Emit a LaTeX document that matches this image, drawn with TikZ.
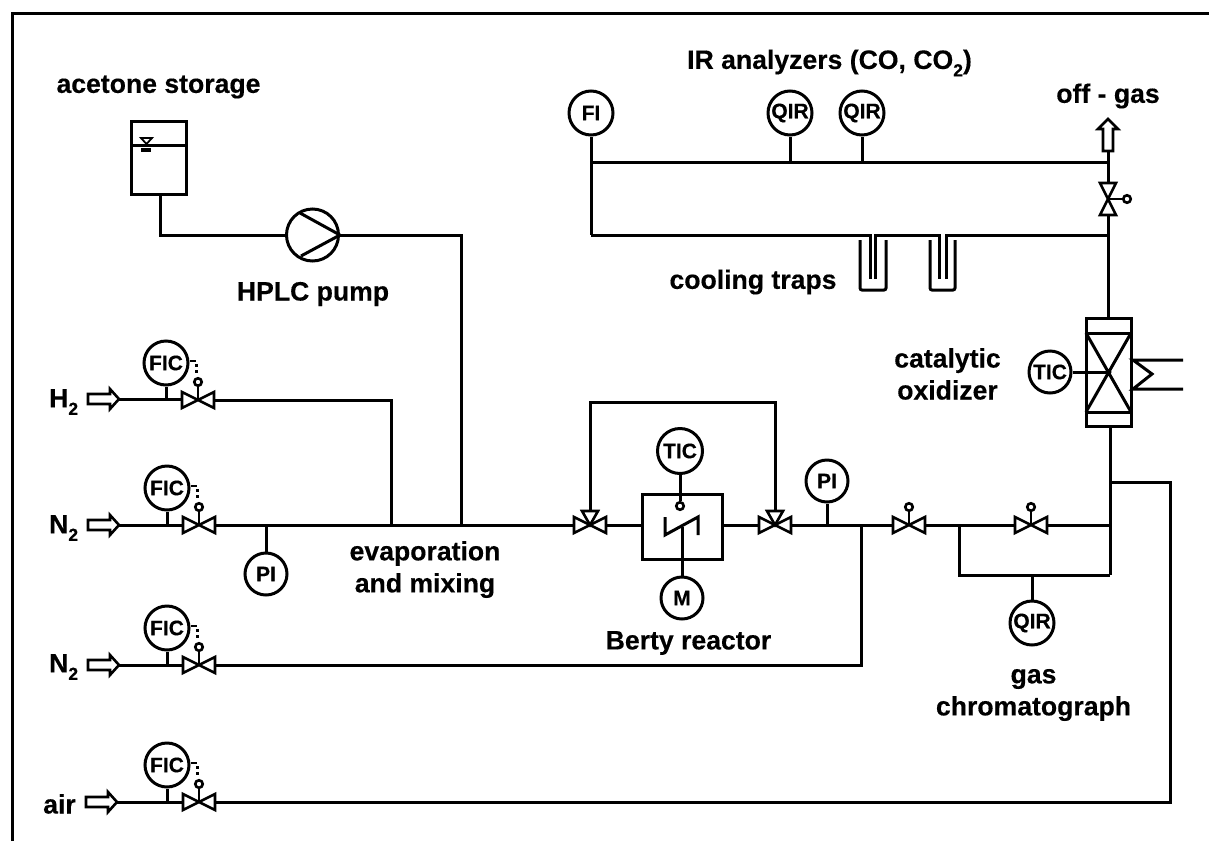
\documentclass[tikz,border=0pt]{standalone}
\usepackage{fontspec}
\setmainfont{Liberation Sans}[BoldFont={Liberation Sans Bold},BoldFeatures={FakeBold=0.35}]
\usetikzlibrary{calc}
\newcommand{\subtwo}{\raisebox{-0.28em}{\fontsize{17.5}{17.5}\selectfont 2}}
\tikzset{
  pipe/.style={line width=3pt,line join=miter},
  thinpart/.style={line width=2.6pt,line join=miter},
  inst/.style={circle,draw,line width=3pt,fill=white,inner sep=0pt,minimum size=44pt,font=\bfseries\fontsize{21}{21}\selectfont},
  lab/.style={inner sep=0pt,align=center,font=\bfseries\fontsize{26.6}{32}\selectfont},
  handle/.style={circle,draw,line width=2.6pt,fill=white,inner sep=0pt,minimum size=7.5pt},
  openarrow/.style={thinpart,fill=white}
}
% horizontal bow-tie valve
\newcommand{\hvalve}[3]{%
  \coordinate (#1) at (#2,#3);
  \coordinate (#1-l) at (#2-16,#3);
  \coordinate (#1-r) at (#2+16,#3);
  \draw[thinpart,fill=white] (#2-16,#3-8) -- (#2+16,#3+8) -- (#2+16,#3-8) -- (#2-16,#3+8) -- cycle;
}
% control valve: handle above
\newcommand{\cvalve}[3]{%
  \hvalve{#1}{#2}{#3}
  \node[handle] (#1-h) at (#2,#3-18) {};
  \draw[thinpart] (#1-h) -- (#1);
}
% FIC group
\newcommand{\ficgroup}[3]{%
  \coordinate (#1-in) at (#2-48,#3);
  \coordinate (#1-t) at (#2-32,#3);
  \node[inst] (#1-f) at (#2-32,#3-37) {FIC};
  \draw[pipe] (#1-f) -- (#1-t);
  \cvalve{#1}{#2}{#3}
  \coordinate (#1-a) at (#2-8,#3-39);
  \coordinate (#1-b) at (#2-2,#3-39);
  \draw[thinpart] (#1-a) -- (#1-b);
  \draw[line width=3pt,dash pattern=on 3pt off 3pt] (#2-2,#3-36) -- (#2-2,#3-25);
}
% open inlet arrow
\newcommand{\inarrow}[3]{%
  \coordinate (#1) at (#2+31,#3);
  \draw[openarrow] (#2,#3-5) -- (#2+22,#3-5) -- (#2+22,#3-10) -- (#2+31,#3) -- (#2+22,#3+10) -- (#2+22,#3+5) -- (#2,#3+5) -- cycle;
}
\begin{document}
\begin{tikzpicture}[x=1pt,y=-1pt]
\useasboundingbox (0,0) rectangle (1209,841);
% frame
\coordinate (fa) at (12,841);
\coordinate (fb) at (12,13);
\coordinate (fc) at (1209,13);
\draw[pipe] (fa) -- (fb) -- (fc);

% acetone storage
\node[draw,line width=3pt,minimum width=55pt,minimum height=73pt,inner sep=0pt] (tank) at (159,157.5) {};
\coordinate (lvlL) at (131.5,145);
\coordinate (lvlR) at (186.5,145);
\draw[pipe] (lvlL) -- (lvlR);
\draw[line width=1.8pt] (141,138) -- (152,138) -- (146.5,144) -- cycle;
\draw[line width=3.5pt] (141,150) -- (151,150);
\coordinate (tankout) at (160,194);
\coordinate (c1) at (160,235);
\node[circle,draw,line width=3pt,inner sep=0pt,minimum size=52pt] (pump) at (312.5,235) {};
\draw[pipe] (pump.east) -- (300,213) (pump.east) -- (301,256);
\coordinate (c2) at (461,235);
\coordinate (c3) at (461,525);
\draw[pipe] (tankout) -- (c1) -- (pump.west);
\draw[pipe] (pump.east) -- (c2) -- (c3);

% H2 line
\inarrow{a1}{88}{399}
\ficgroup{v1}{198}{400}
\coordinate (j1) at (391,400);
\coordinate (j2) at (391,525);
\coordinate (v1in) at (182,399);
\draw[pipe] (a1) -- (v1in);
\draw[pipe] (v1-r) -- (j1) -- (j2);

% N2 line 1
\inarrow{a2}{88}{525}
\ficgroup{v2}{199}{525}
\draw[pipe] (a2) -- (v2-l);
\node[inst,minimum size=42pt] (pi1) at (266,574) {PI};
\coordinate (t1) at (266,525);
\draw[pipe] (pi1) -- (t1);

% reactor section
\hvalve{v3}{590}{525}
\hvalve{v4}{775}{525}
\draw[pipe] (v2-r) -- (v3-l);
\coordinate (b1) at (590,402);
\coordinate (b2) at (775,402);
\coordinate (b3) at (590,511);
\coordinate (b4) at (775,511);
\draw[pipe] (v3) -- (b3) -- (b1) -- (b2) -- (b4) -- (v4);
\draw[thinpart,fill=white] (582,511) -- (598,511) -- (590,525) -- cycle;
\draw[thinpart,fill=white] (767,511) -- (783,511) -- (775,525) -- cycle;
\node[draw,line width=3pt,minimum width=80pt,minimum height=65pt,inner sep=0pt] (reactor) at (682,526.5) {};
\draw[pipe] (v3-r) -- (v3-r -| reactor.west);
\draw[pipe] (v4-l -| reactor.east) -- (v4-l);
\node[inst,minimum size=45pt] (tic1) at (680,451) {TIC};
\node[handle] (tich) at (680,506) {};
\draw[pipe] (tic1) -- (tich);
\draw[pipe] (665,517) -- (665,535) -- (698,517) -- (698,535);
\node[inst,minimum size=42pt] (motor) at (682,598) {M};
\coordinate (shaft) at (682,527);
\draw[pipe] (shaft) -- (motor);

% after reactor
\node[inst,minimum size=42pt] (pi2) at (827,481) {PI};
\coordinate (t2) at (827,525);
\draw[pipe] (pi2) -- (t2);
\cvalve{v5}{909}{525}
\cvalve{v6}{1031}{525}
\coordinate (j3) at (861,525);
\coordinate (j4) at (861,665);
\draw[pipe] (v4-r) -- (v5-l);
\draw[pipe] (v5-r) -- (v6-l);
\coordinate (j5) at (1110,525);
\draw[pipe] (v6-r) -- (j5);
\coordinate (g1) at (959,525);
\coordinate (g2) at (959,575);
\coordinate (g3) at (1110,575);
\coordinate (g4) at (1032,575);
\draw[pipe] (g1) -- (g2) -- (g3);
\node[inst] (qir3) at (1032,623) {QIR};
\draw[pipe] (g4) -- (qir3);

% N2 line 2
\inarrow{a3}{88}{665}
\ficgroup{v7}{199}{665}
\draw[pipe] (a3) -- (v7-l);
\draw[pipe] (v7-r) -- (j4) -- (j3);

% air line
\inarrow{a4}{86}{802}
\ficgroup{v8}{199}{802}
\draw[pipe] (a4) -- (v8-l);
\coordinate (k1) at (1170,802);
\coordinate (k2) at (1170,482);
\coordinate (k3) at (1110,482);
\draw[pipe] (v8-r) -- (k1) -- (k2) -- (k3);

% catalytic oxidizer
\node[draw,line width=3pt,minimum width=45pt,minimum height=108pt,inner sep=0pt] (ox) at (1108.5,372) {};
\coordinate (oxc) at (1108.5,372);
\draw[pipe] (1086,333) -- (1131,333) (1086,412) -- (1131,412);
\draw[pipe] (1086,333) -- (1131,412) (1131,333) -- (1086,412);
\node[inst,minimum size=42pt] (tic2) at (1050,372) {TIC};
\draw[pipe] (tic2) -- (oxc);
\fill (oxc) circle (3pt);
\coordinate (h1) at (1183,360);
\coordinate (h2) at (1183,389);
\draw[pipe] (h1) -- (1133,360) -- (1152,374) -- (1133,389) -- (h2);
\coordinate (oxb) at (1110,426);
\draw[pipe] (oxb) -- (g3);

% off-gas
\coordinate (vtop) at (1108,151);
\coordinate (vv) at (1108,199);
\coordinate (oxt) at (1108,318);
\draw[pipe] (vtop) -- (oxt);
\draw[thinpart,fill=white] (1100,183) -- (1116,183) -- (1100,215) -- (1116,215) -- cycle;
\node[handle] (vvh) at (1127,199) {};
\draw[thinpart] (vv) -- (vvh);
\draw[openarrow] (1103,151) -- (1103,129) -- (1098,129) -- (1108,119) -- (1118,129) -- (1113,129) -- (1113,151) -- cycle;

% analyzer lines
\node[inst] (fi) at (591,113) {FI};
\node[inst] (qir1) at (790,113) {QIR};
\node[inst] (qir2) at (862,113) {QIR};
\coordinate (u1) at (591,162);
\coordinate (u2) at (1108,162);
\coordinate (u3) at (790,162);
\coordinate (u4) at (862,162);
\coordinate (l1) at (591,235);
\coordinate (l2) at (1108,235);
\draw[pipe] (fi) -- (u1) -- (l1);
\draw[pipe] (u1) -- (u2);
\draw[pipe] (qir1) -- (u3);
\draw[pipe] (qir2) -- (u4);
% cooling traps
\coordinate (tr1) at (870,235);
\coordinate (tr2) at (875.5,235);
\coordinate (tr3) at (939,235);
\coordinate (tr4) at (946,235);
\draw[pipe] (l1) -- (tr1) -- (870,279);
\draw[pipe] (875.5,279) -- (tr2) -- (tr3) -- (939,279);
\draw[pipe] (946,279) -- (tr4) -- (l2);
\draw[pipe,rounded corners=2pt] (860,240) -- (860,290) -- (886,290) -- (886,240);
\draw[pipe,rounded corners=2pt] (930,240) -- (930,290) -- (955,290) -- (955,240);

% labels
\node[lab] (t-a) at (158.5,87) {acetone storage};
\node[lab] (t-b) at (829.5,63) {IR analyzers (CO, CO\subtwo)};
\node[lab] (t-c) at (1108,96) {off - gas};
\node[lab] (t-d) at (313,294) {HPLC pump};
\node[lab] (t-e) at (753,282) {cooling traps};
\node[lab] (t-f) at (947.5,374) {catalytic\\oxidizer};
\node[lab] (t-g) at (425,569.5) {evaporation\\and mixing};
\node[lab] (t-h) at (688.5,643) {Berty reactor};
\node[lab] (t-i) at (1033.5,695) {gas\\chromatograph};
\node[lab,anchor=west] (t-j) at (49,402) {H\subtwo};
\node[lab,anchor=west] (t-k) at (49,528) {N\subtwo};
\node[lab,anchor=west] (t-l) at (49,667) {N\subtwo};
\node[lab,anchor=west] (t-m) at (43,804) {air};
\end{tikzpicture}
\end{document}
